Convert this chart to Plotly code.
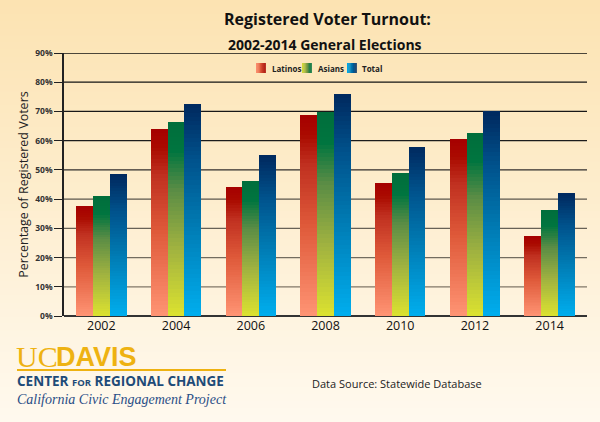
import plotly.graph_objects as go

years = ["2002", "2004", "2006", "2008", "2010", "2012", "2014"]
latinos = [37.5, 64.0, 44.0, 68.7, 45.5, 60.5, 27.3]
asians = [41.0, 66.5, 46.3, 69.8, 48.8, 62.5, 36.2]
total = [48.5, 72.5, 55.0, 76.0, 58.0, 70.0, 42.0]
series_names = ["Latinos", "Asians", "Total"]
y_ticks = [0, 10, 20, 30, 40, 50, 60, 70, 80, 90]
y_tick_labels = [f"<b>{v}%</b>" for v in y_ticks]


def hex2rgb(h):
    h = h.lstrip("#")
    return tuple(int(h[i:i + 2], 16) for i in (0, 2, 4))


def interp(stops, t):
    for (t0, c0), (t1, c1) in zip(stops[:-1], stops[1:]):
        if t0 <= t <= t1:
            f = 0 if t1 == t0 else (t - t0) / (t1 - t0)
            a, b = hex2rgb(c0), hex2rgb(c1)
            return "rgb(%d,%d,%d)" % tuple(round(a[i] + (b[i] - a[i]) * f) for i in range(3))
    return stops[-1][1]


stops_all = {
    "Latinos": [(0, "#FF9474"), (0.45, "#DF5A3A"), (0.75, "#C03020"), (0.9, "#AA0A00"), (1, "#A60000")],
    "Asians": [(0, "#DCE230"), (0.35, "#A0B240"), (0.65, "#5A8C45"), (0.85, "#00753F"), (1, "#006E3C")],
    "Total": [(0, "#00AEEE"), (0.45, "#0078B0"), (0.75, "#00508A"), (1, "#00285E")],
}
series = [("Latinos", latinos, -0.3375), ("Asians", asians, -0.1125), ("Total", total, 0.1125)]

N = 50
BW = 0.225
fig = go.Figure()
for name, vals, off in series:
    stops = stops_all[name]
    # layered bars: tallest (darkest) first, shorter lighter ones drawn over it
    for k in range(N):
        h = 1 - k / N
        col = interp(stops, max(0.0, h - 0.5 / N))
        fig.add_trace(go.Bar(
            x=years,
            y=[v * h for v in vals],
            width=BW,
            offset=off,
            marker=dict(color=col, line=dict(width=0)),
            name=name,
            showlegend=False,
            hoverinfo="skip",
        ))

# plot area in pixels: x 64..587, y 53..316
PX0, PX1, PY0, PY1 = 64, 587, 53, 316


def px_x(x):
    return (x - PX0) / (PX1 - PX0)


def px_y(y):
    return (PY1 - y) / (PY1 - PY0)


# background gradient
shapes = []
M = 60
top_c, bot_c = "#FCE3B2", "#FFF9EE"
for i in range(M):
    t = i / (M - 1)
    a, b = hex2rgb(top_c), hex2rgb(bot_c)
    col = "rgb(%d,%d,%d)" % tuple(round(a[j] + (b[j] - a[j]) * t) for j in range(3))
    y_top = i * 422 / M
    y_bot = (i + 1) * 422 / M + 1
    shapes.append(dict(type="rect", xref="paper", yref="paper",
                       x0=px_x(-5), x1=px_x(605), y0=px_y(y_bot), y1=px_y(y_top),
                       fillcolor=col, line=dict(width=0), layer="below"))

# gridlines: darker towards the top
for v in y_ticks[1:]:
    col = interp([(0, "#8C8272"), (0.45, "#5A554C"), (0.6, "#1E1E1E"), (1, "#111111")], v / 90)
    shapes.append(dict(type="line", xref="paper", yref="y", x0=0, x1=1, y0=v, y1=v,
                       line=dict(color=col, width=1.3), layer="below"))

# custom legend swatches (horizontal gradient)
legend_items = [("Latinos", 256, 270), ("Asians", 302, 316), ("Total", 347, 360)]
annotations = []
for name, sx, tx in legend_items:
    S = 8
    for j in range(S):
        col = interp(stops_all[name], (j + 0.5) / S)
        shapes.append(dict(type="rect", xref="paper", yref="paper",
                           x0=px_x(sx + j * 9.5 / S), x1=px_x(sx + (j + 1) * 9.5 / S + 0.3),
                           y0=px_y(73), y1=px_y(63), fillcolor=col, line=dict(width=0)))
    annotations.append(dict(text="<b>" + name + "</b>", x=px_x(tx), y=px_y(68),
                            xanchor="left", font=dict(family="Open Sans", size=8, color="#222")))

# gold rule under logo
shapes.append(dict(type="line", xref="paper", yref="paper",
                   x0=px_x(17), x1=px_x(226), y0=px_y(370), y1=px_y(370),
                   line=dict(color="#EEB211", width=2)))

annotations += [
    dict(text="<b>Registered Voter Turnout:</b>", x=px_x(327), y=px_y(19),
         font=dict(family="Open Sans", size=16, color="#111")),
    dict(text="<b>2002-2014 General Elections</b>", x=px_x(325), y=px_y(44),
         font=dict(family="Open Sans", size=14, color="#111")),
    dict(text="UC", x=px_x(14), y=px_y(356), xanchor="left",
         font=dict(family="Liberation Serif", size=30, color="#EEB211")),
    dict(text="<b>DAVIS</b>", x=px_x(54), y=px_y(357), xanchor="left",
         font=dict(family="Liberation Sans", size=27, color="#EEB211")),
    dict(text="<b>CENTER <span style='font-size:9.5px'>FOR</span> REGIONAL CHANGE</b>", x=px_x(15), y=px_y(381),
         xanchor="left", font=dict(family="Open Sans", size=13.5, color="#1E4B78")),
    dict(text="<i>California Civic Engagement Project</i>", x=px_x(15), y=px_y(399),
         xanchor="left", font=dict(family="Liberation Serif", size=14, color="#2A4E86")),
    dict(text="Data Source: Statewide Database", x=px_x(310), y=px_y(383),
         xanchor="left", font=dict(family="Open Sans", size=11, color="#222")),
]
for a in annotations:
    a.setdefault("xref", "paper")
    a.setdefault("yref", "paper")
    a.setdefault("yanchor", "middle")
    a.setdefault("xanchor", "center")
    a.setdefault("showarrow", False)

fig.update_layout(
    width=600, height=422,
    margin=dict(l=PX0, r=600 - PX1, t=PY0, b=422 - PY1, autoexpand=False),
    paper_bgcolor="#FEF3DE",
    plot_bgcolor="rgba(0,0,0,0)",
    barmode="overlay",
    bargap=0,
    shapes=shapes,
    annotations=annotations,
    showlegend=False,
    xaxis=dict(type="category", categoryorder="array", categoryarray=years,
               showgrid=False, showline=False, ticks="",
               tickfont=dict(family="Open Sans", size=12.5, color="#111"),
               range=[-0.5, 6.5], fixedrange=True, automargin=False),
    yaxis=dict(range=[0, 90], tickvals=y_ticks, ticktext=y_tick_labels,
               showgrid=False,
               showline=True, linecolor="#222", linewidth=1.5,
               ticks="outside", ticklen=8, tickcolor="#222",
               zeroline=True, zerolinecolor="#333", zerolinewidth=1.5,
               tickfont=dict(family="Open Sans", size=8.5, color="#333"),
               title=dict(text="Percentage of Registered Voters", standoff=4,
                          font=dict(family="Open Sans", size=12.5, color="#222")),
               fixedrange=True, automargin=False),
)

fig.write_html("out.html", config={"displayModeBar": False},
               post_script="document.body.style.margin='0';")
